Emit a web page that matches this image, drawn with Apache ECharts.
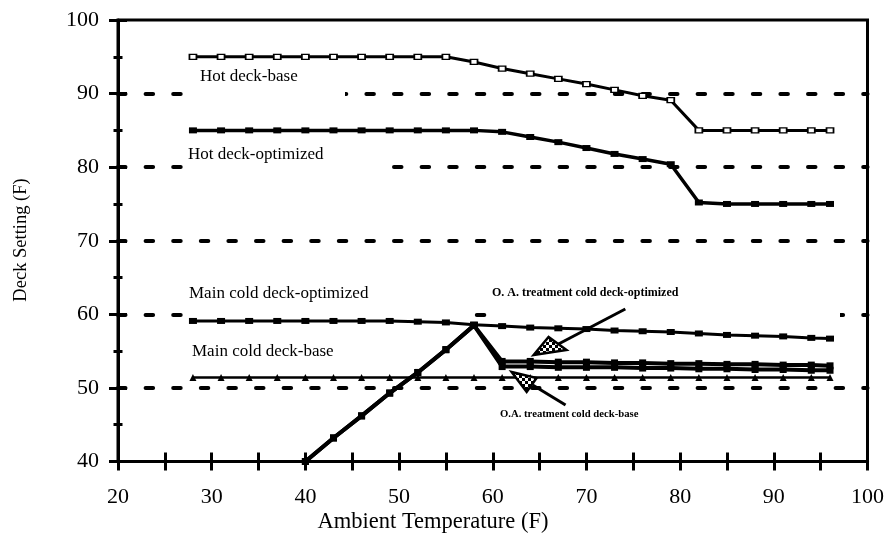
<!DOCTYPE html>
<html>
<head>
<meta charset="utf-8">
<script src="https://cdn.jsdelivr.net/npm/echarts@6/dist/echarts.min.js"></script>
<style>
  html, body { margin: 0; padding: 0; background: #fff; }
  #chart { width: 887px; height: 538px; }
</style>
</head>
<body>
<div id="chart"></div>
<script>
// Ambient temperatures (F) at which the deck settings were computed
const ambientTemps = [28, 31, 34, 37, 40, 43, 46, 49, 52, 55, 58, 61, 64, 67, 70, 73, 76, 79, 82, 85, 88, 91, 94, 96];

// Hot deck settings (F)
const hotDeckBase      = [95, 95, 95, 95, 95, 95, 95, 95, 95, 95, 94.3, 93.4, 92.7, 92.0, 91.3, 90.5, 89.7, 89.1, 85, 85, 85, 85, 85, 85];
const hotDeckOptimized = [85, 85, 85, 85, 85, 85, 85, 85, 85, 85, 85, 84.8, 84.1, 83.4, 82.6, 81.8, 81.1, 80.4, 75.2, 75, 75, 75, 75, 75];

// Main cold deck settings (F)
const mainColdOptimized = [59.1, 59.1, 59.1, 59.1, 59.1, 59.1, 59.1, 59.1, 59.0, 58.9, 58.6, 58.4, 58.2, 58.1, 58.0, 57.8, 57.7, 57.6, 57.4, 57.2, 57.1, 57.0, 56.8, 56.7];
const mainColdBase      = [51.4, 51.4, 51.4, 51.4, 51.4, 51.4, 51.4, 51.4, 51.4, 51.4, 51.4, 51.4, 51.4, 51.4, 51.4, 51.4, 51.4, 51.4, 51.4, 51.4, 51.4, 51.4, 51.4, 51.4];

// Outside-air treatment cold deck settings (F)
const oaTemps          = [40, 43, 46, 49, 52, 55, 58, 61, 64, 67, 70, 73, 76, 79, 82, 85, 88, 91, 94, 96];
const oaColdOptimized  = [40, 43.2, 46.2, 49.3, 52.1, 55.2, 58.5, 53.6, 53.6, 53.5, 53.5, 53.4, 53.4, 53.3, 53.3, 53.2, 53.2, 53.1, 53.1, 53.0];
const oaColdBase       = [40, 43.2, 46.2, 49.3, 52.1, 55.2, 58.5, 52.9, 52.9, 52.8, 52.8, 52.8, 52.7, 52.7, 52.6, 52.6, 52.5, 52.5, 52.4, 52.4];

// Axis ranges
const xRange = { min: 20, max: 100, step: 10 };
const yRange = { min: 40, max: 100, step: 10 };

const FONT = "'Liberation Serif', 'Times New Roman', serif";
const INK = '#000';

const pairs = (xs, ys) => xs.map((x, i) => [x, ys[i]]);

function lineSeries(name, xs, ys, width, symbol, size, fill) {
  return {
    name, type: 'line', data: pairs(xs, ys),
    symbol, symbolSize: size, showSymbol: true,
    lineStyle: { color: INK, width },
    itemStyle: { color: fill, borderColor: INK, borderWidth: fill === '#fff' ? 1.5 : 0 },
    z: 3, silent: true
  };
}

const tickStyle = { color: INK, width: 3 };

const chart = echarts.init(document.getElementById('chart'), null, { renderer: 'canvas' });

chart.setOption({
  animation: false,
  backgroundColor: '#fff',
  grid: {
    left: 118, right: 17, top: 20, bottom: 76.5,
    show: true, borderColor: INK, borderWidth: 3, backgroundColor: 'transparent'
  },
  xAxis: [
    {
      type: 'value', min: xRange.min, max: xRange.max, interval: xRange.step, position: 'bottom',
      axisLine: { show: true, onZero: false, lineStyle: { color: INK, width: 3 } },
      axisTick: { show: true, length: 9, inside: false, lineStyle: tickStyle },
      minorTick: { show: true, splitNumber: 2, length: 9, lineStyle: tickStyle },
      axisLabel: { color: INK, fontSize: 22, fontFamily: FONT, margin: 25 },
      splitLine: { show: false }
    },
    {
      type: 'value', min: xRange.min, max: xRange.max, interval: xRange.step, position: 'bottom',
      axisLine: { show: false },
      axisTick: { show: true, length: 9, inside: true, lineStyle: tickStyle },
      minorTick: { show: true, splitNumber: 2, length: 9, lineStyle: tickStyle },
      axisLabel: { show: false },
      splitLine: { show: false }
    }
  ],
  yAxis: [
    {
      type: 'value', min: yRange.min, max: yRange.max, interval: yRange.step, position: 'left',
      axisLine: { show: true, onZero: false, lineStyle: { color: INK, width: 3 } },
      axisTick: { show: true, length: 9, inside: false, lineStyle: tickStyle },
      minorTick: { show: true, splitNumber: 2, length: 4.5, lineStyle: tickStyle },
      axisLabel: { color: INK, fontSize: 22, fontFamily: FONT, margin: 19 },
      splitLine: {
        show: true, showMinLine: false, showMaxLine: false,
        lineStyle: { color: INK, width: 4, type: [7.5, 20.1], cap: 'round' }
      }
    },
    {
      type: 'value', min: yRange.min, max: yRange.max, interval: yRange.step, position: 'left',
      axisLine: { show: false },
      axisTick: { show: true, length: 9, inside: true, lineStyle: tickStyle },
      minorTick: { show: true, splitNumber: 2, length: 4.5, lineStyle: tickStyle },
      axisLabel: { show: false },
      splitLine: { show: false }
    }
  ],
  series: [
    lineSeries('Hot deck-base', ambientTemps, hotDeckBase, 3, 'rect', [7, 5], '#fff'),
    lineSeries('Hot deck-optimized', ambientTemps, hotDeckOptimized, 3.5, 'rect', [8, 6], INK),
    lineSeries('Main cold deck-optimized', ambientTemps, mainColdOptimized, 3, 'rect', [8, 6], INK),
    lineSeries('Main cold deck-base', ambientTemps, mainColdBase, 2.5, 'triangle', 7, INK),
    lineSeries('O. A. treatment cold deck-base', oaTemps, oaColdBase, 4, 'rect', 7, INK),
    lineSeries('O. A. treatment cold deck-optimized', oaTemps, oaColdOptimized, 4, 'rect', 7, INK)
  ]
});

// Checkered fill used inside the arrow heads
function checkerPattern() {
  const c = document.createElement('canvas');
  c.width = 6; c.height = 6;
  const g = c.getContext('2d');
  g.fillStyle = '#fff'; g.fillRect(0, 0, 6, 6);
  g.fillStyle = '#000'; g.fillRect(0, 0, 3, 3); g.fillRect(3, 3, 3, 3);
  return c;
}
const pattern = { image: checkerPattern(), repeat: 'repeat' };

// Callout arrows, anchored in axis units
const callouts = [
  { shaft: [[74.15, 60.73], [67.02, 55.97]], head: [[64.36, 54.47], [65.96, 56.92], [67.87, 55.15]] },
  { shaft: [[67.77, 47.68], [64.26, 50.40]], head: [[62.02, 52.16], [64.68, 51.35], [63.62, 49.45]] }
];
const toPx = (p) => chart.convertToPixel({ gridIndex: 0 }, p);

const graphics = [];

// White label boxes that interrupt the dashed reference lines
[[184, 84, 161, 16], [184, 158, 206, 16], [184, 306, 289, 16], [489, 306, 351, 16]].forEach(([x, y, w, h]) => {
  graphics.push({ type: 'rect', z: 1, silent: true, shape: { x, y, width: w, height: h }, style: { fill: '#fff' } });
});

callouts.forEach((c) => {
  const a = toPx(c.shaft[0]), b = toPx(c.shaft[1]);
  graphics.push({ type: 'line', z: 5, silent: true, shape: { x1: a[0], y1: a[1], x2: b[0], y2: b[1] }, style: { stroke: INK, lineWidth: 3 } });
  graphics.push({ type: 'polygon', z: 6, silent: true, shape: { points: c.head.map(toPx) }, style: { fill: pattern, stroke: INK, lineWidth: 2.5, lineJoin: 'miter' } });
});

function label(text, x, y, size, weight, extra) {
  return Object.assign({
    type: 'text', z: 10, silent: true, x, y,
    style: { text, fill: INK, fontSize: size, fontFamily: FONT, fontWeight: weight || 'normal', align: 'left', verticalAlign: 'middle' }
  }, extra || {});
}

graphics.push(label('Hot deck-base', 200, 77, 17));
graphics.push(label('Hot deck-optimized', 188, 155, 17));
graphics.push(label('Main cold deck-optimized', 189, 294, 17));
graphics.push(label('Main cold deck-base', 192, 352, 17));
graphics.push(label('O. A. treatment cold deck-optimized', 492, 293, 12, 'bold'));
graphics.push(label('O.A. treatment cold deck-base', 500, 414, 10.7, 'bold'));

// Axis titles
const xTitle = label('Ambient Temperature (F)', 433, 522, 22.5);
xTitle.style.align = 'center';
graphics.push(xTitle);
const yTitle = label('Deck Setting (F)', 21, 240, 18.5, 'normal', { rotation: Math.PI / 2 });
yTitle.style.align = 'center';
graphics.push(yTitle);

chart.setOption({ graphic: graphics });
</script>
</body>
</html>
